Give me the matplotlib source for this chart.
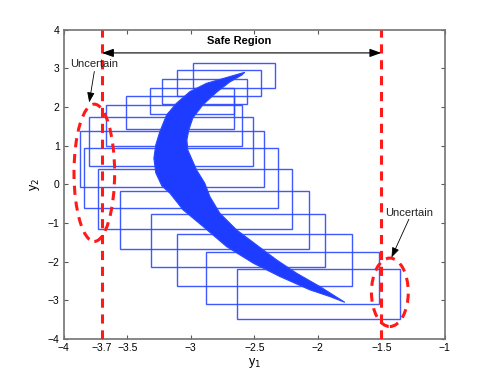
import numpy as np
import matplotlib
matplotlib.use('Agg')
import matplotlib.pyplot as plt
from matplotlib.patches import Rectangle, Ellipse, Polygon

plt.rcParams['font.family'] = ['Liberation Sans', 'DejaVu Sans']
plt.rcParams['axes.unicode_minus'] = True

# interval boxes
box_x0 = [-2.98, -3.11, -3.23, -3.32, -3.51, -3.67, -3.80, -3.87, -3.84, -3.73, -3.56, -3.31, -3.11, -2.88, -2.64]
box_x1 = [-2.34, -2.45, -2.56, -2.66, -2.66, -2.60, -2.51, -2.42, -2.31, -2.20, -2.07, -1.94, -1.73, -1.52, -1.35]
box_y0 = [2.49, 2.29, 2.08, 1.82, 1.43, 1.00, 0.48, -0.06, -0.61, -1.15, -1.67, -2.14, -2.64, -3.09, -3.47]
box_y1 = [3.13, 2.97, 2.73, 2.49, 2.29, 2.05, 1.75, 1.37, 0.94, 0.39, -0.17, -0.77, -1.28, -1.74, -2.18]

# outline of the sampled point cloud
outer_x = [-2.575, -2.876, -3.008, -3.113, -3.191, -3.244, -3.276, -3.291, -3.276, -3.228, -3.165,
           -3.061, -2.903, -2.719, -2.509, -2.299, -2.063, -1.906, -1.787]
outer_y = [2.90, 2.615, 2.398, 2.098, 1.796, 1.364, 1.021, 0.677, 0.297, -0.039, -0.227,
           -0.659, -1.090, -1.607, -2.036, -2.382, -2.726, -2.899, -3.05]
inner_x = [-1.984, -2.168, -2.325, -2.483, -2.640, -2.772, -2.850, -2.890, -2.955, -3.024,
           -3.031, -3.016, -2.984, -2.906, -2.795, -2.693, -2.598]
inner_y = [-2.641, -2.295, -1.951, -1.563, -1.176, -0.744, -0.315, 0.031, 0.375, 0.891,
           1.150, 1.408, 1.718, 2.054, 2.390, 2.649, 2.829]

safe_lo, safe_hi = -3.7, -1.5
xticks = [-4, -3.7, -3.5, -3, -2.5, -2, -1.5, -1]
xticklabels = ['\u22124', '\u22123.7', '\u22123.5', '\u22123', '\u22122.5', '\u22122', '\u22121.5', '\u22121']
yticks = [-4, -3, -2, -1, 0, 1, 2, 3, 4]

fig = plt.figure(figsize=(4.91, 3.81), dpi=100)
ax = fig.add_axes([0.130, 0.110, 0.776, 0.812])

for x0, x1, y0, y1 in zip(box_x0, box_x1, box_y0, box_y1):
    ax.add_patch(Rectangle((x0, y0), x1 - x0, y1 - y0, fill=False,
                           ec='#2a48ff', lw=1.0, alpha=0.9, zorder=2))

cloud = np.column_stack([outer_x + inner_x, outer_y + inner_y])
ax.add_patch(Polygon(cloud, closed=True, fc='#1e3cff', ec='#2a48ff', lw=0.8, zorder=3))

for xv in (safe_lo, safe_hi):
    ax.axvline(xv, color='#ff1a1a', lw=2.2, ls=(0, (3, 2.2)), zorder=5)

ax.add_patch(Ellipse((-3.76, 0.30), 0.32, 3.55, fill=False, ec='#ff1a1a', lw=2.2,
                     ls=(0, (3, 2.2)), zorder=5))
ax.add_patch(Ellipse((-1.433, -2.79), 0.29, 1.77, fill=False, ec='#ff1a1a', lw=2.2,
                     ls=(0, (3, 2.2)), zorder=5))

ax.annotate('', xy=(safe_lo, 3.40), xytext=(safe_hi, 3.40),
            arrowprops=dict(arrowstyle='<|-|>,head_length=0.7,head_width=0.25',
                            color='black', lw=0.8, shrinkA=0, shrinkB=0), zorder=6)
ax.text(-2.62, 3.71, 'Safe Region', ha='center', va='center', fontsize=8, fontweight='bold')

ax.text(-3.76, 3.11, 'Uncertain', ha='center', va='center', fontsize=8, color='#222222',
        bbox=dict(fc='none', ec='none', pad=0), zorder=7)
ax.annotate('', xy=(-3.80, 2.12), xytext=(-3.76, 2.92),
            arrowprops=dict(arrowstyle='-|>,head_length=0.6,head_width=0.22',
                            color='black', lw=0.6, shrinkA=0, shrinkB=0), zorder=7)
ax.text(-1.283, -0.74, 'Uncertain', ha='center', va='center', fontsize=8, color='#222222', zorder=7)
ax.annotate('', xy=(-1.42, -1.89), xytext=(-1.283, -0.90),
            arrowprops=dict(arrowstyle='-|>,head_length=0.6,head_width=0.22',
                            color='black', lw=0.6, shrinkA=0, shrinkB=0), zorder=7)

ax.set_xlim(-4, -1)
ax.set_ylim(-4, 4)
ax.set_xticks(xticks)
ax.set_xticklabels(xticklabels)
ax.set_yticks(yticks)
ax.set_yticklabels([('\u2212' + str(-v)) if v < 0 else str(v) for v in yticks])
ax.tick_params(direction='in', top=True, right=True, labelsize=7.5, length=3,
               color='0.35', width=0.8, pad=3)
for sp in ax.spines.values():
    sp.set_color('0.45')
    sp.set_linewidth(1.2)

ax.set_xlabel('y$_1$', fontsize=9, labelpad=2)
ax.set_ylabel('y$_2$', fontsize=9, labelpad=4)

fig.savefig('out.png', dpi=100)
